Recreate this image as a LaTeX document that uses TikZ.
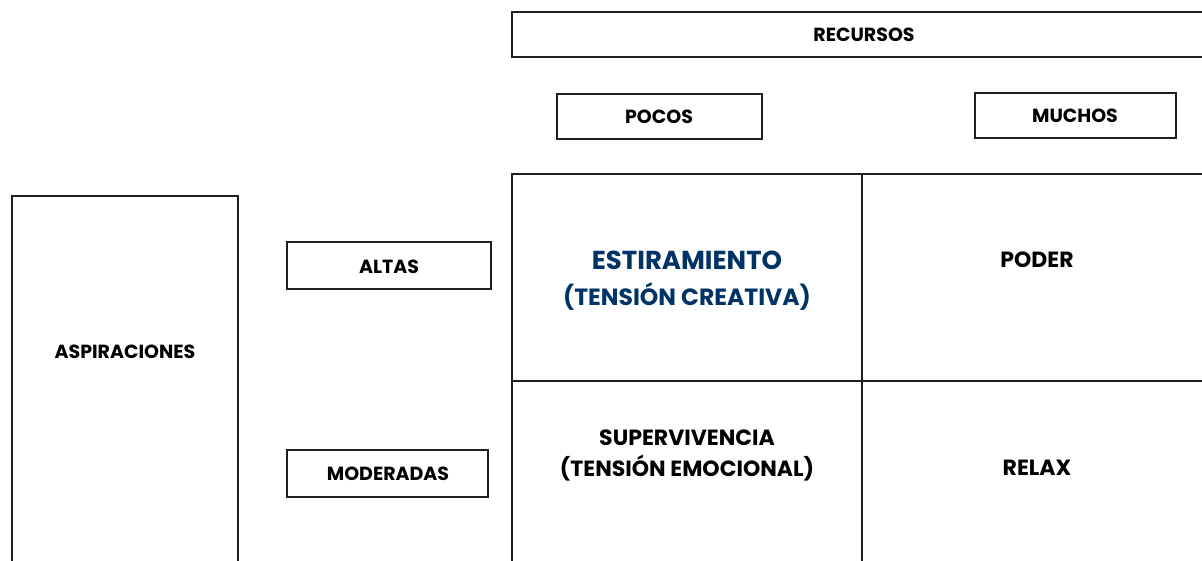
\documentclass[tikz,border=0pt]{standalone}
\usepackage{fontspec}
\setmainfont{Poppins}
\definecolor{navy}{RGB}{0,51,102}
\definecolor{edge}{RGB}{30,30,30}
\begin{document}
\begin{tikzpicture}[x=1pt,y=-1pt,
  lbl/.style={font=\bfseries\fontsize{19}{22}\selectfont,align=center,text=black},
  big/.style={font=\bfseries\fontsize{22}{31}\selectfont,align=center,text=black},
  box/.style={draw=edge,line width=1.4pt}]
\useasboundingbox (0,0) rectangle (1202,561);
\clip (0,0) rectangle (1202,561);
\fill[white] (0,0) rectangle (1202,561);
% boxes
\draw[box] (1210,12) -- (512,12) -- (512,57) -- (1210,57);
\draw[box] (557,94) rectangle (762,139);
\draw[box] (975,93) rectangle (1176,138);
\draw[box] (12,570) -- (12,196) -- (238,196) -- (238,570);
\draw[box] (287,242) rectangle (491,289);
\draw[box] (287,450) rectangle (488,497);
% quadrants
\draw[box] (512,570) -- (512,174) -- (1210,174);
\draw[box] (862,174) -- (862,570);
\draw[box] (512,381) -- (1210,381);
% labels
\node[lbl] (rec) at (864,35) {RECURSOS};
\node[lbl] (poc) at (659,117) {POCOS};
\node[lbl] (muc) at (1075,116) {MUCHOS};
\node[lbl] (asp) at (125,352) {ASPIRACIONES};
\node[lbl] (alt) at (389,267) {ALTAS};
\node[lbl] (mod) at (388,474) {MODERADAS};
\node[font=\bfseries\fontsize{23.5}{36}\selectfont,align=center,text=navy] (est) at (687,281) {{\fontsize{26}{36}\selectfont ESTIRAMIENTO}\\(TENSIÓN CREATIVA)};
\node[big] (pod) at (1037,260) {PODER};
\node[big] (sup) at (687,455) {SUPERVIVENCIA\\(TENSIÓN EMOCIONAL)};
\node[big] (rel) at (1037,468) {RELAX};
\end{tikzpicture}
\end{document}
